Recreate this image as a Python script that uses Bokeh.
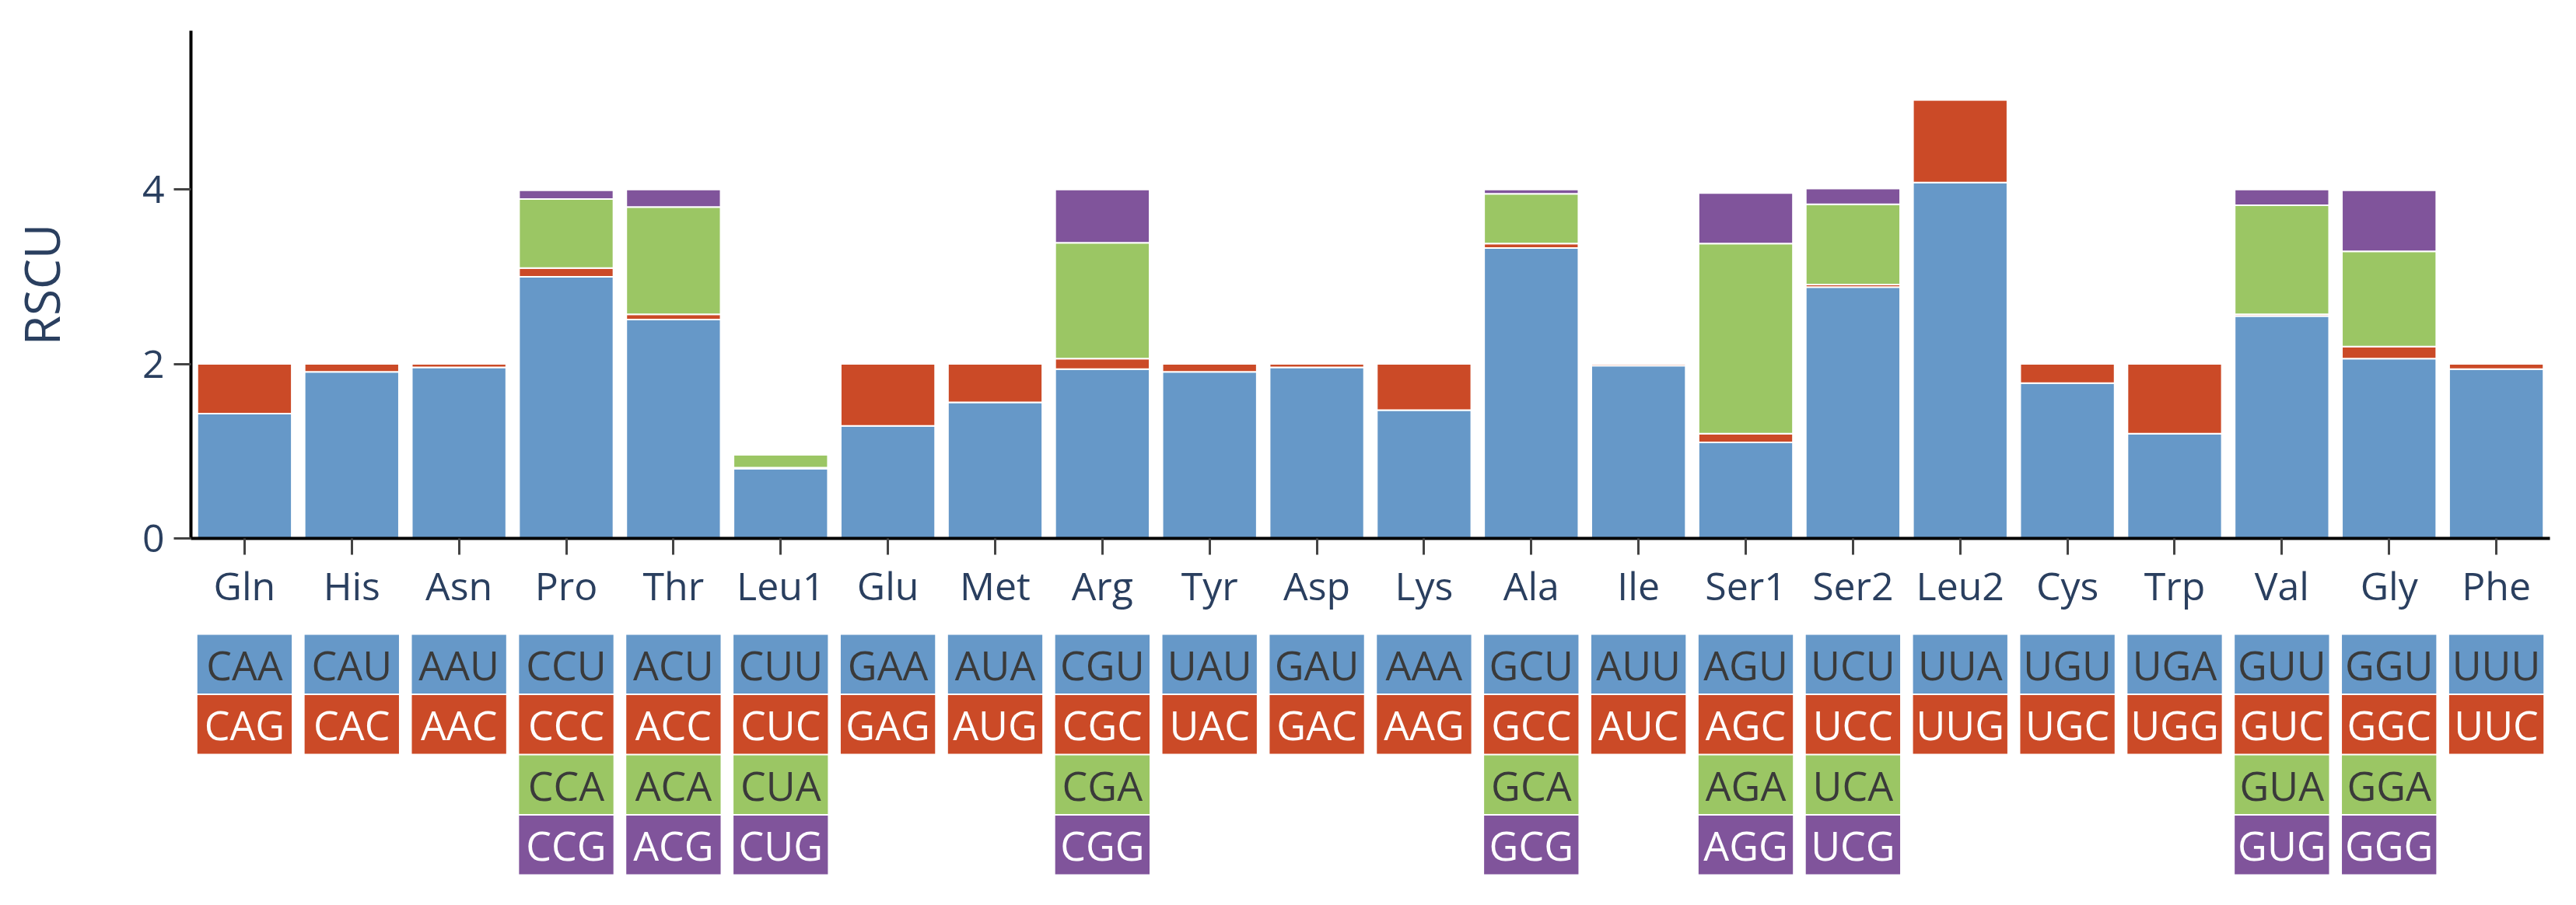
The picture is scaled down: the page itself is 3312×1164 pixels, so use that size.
from bokeh.plotting import figure
from bokeh.models import ColumnDataSource, Range1d, FactorRange, FixedTicker
from bokeh.layouts import column
from bokeh.embed import file_html
from bokeh.resources import INLINE
from bokeh.core.properties import value

# ---------------- data ----------------
amino = ["Gln", "His", "Asn", "Pro", "Thr", "Leu1", "Glu", "Met", "Arg", "Tyr", "Asp",
         "Lys", "Ala", "Ile", "Ser1", "Ser2", "Leu2", "Cys", "Trp", "Val", "Gly", "Phe"]

codon1 = ["CAA", "CAU", "AAU", "CCU", "ACU", "CUU", "GAA", "AUA", "CGU", "UAU", "GAU",
          "AAA", "GCU", "AUU", "AGU", "UCU", "UUA", "UGU", "UGA", "GUU", "GGU", "UUU"]
codon2 = ["CAG", "CAC", "AAC", "CCC", "ACC", "CUC", "GAG", "AUG", "CGC", "UAC", "GAC",
          "AAG", "GCC", "AUC", "AGC", "UCC", "UUG", "UGC", "UGG", "GUC", "GGC", "UUC"]
codon3 = ["", "", "", "CCA", "ACA", "CUA", "", "", "CGA", "", "",
          "", "GCA", "", "AGA", "UCA", "", "", "", "GUA", "GGA", ""]
codon4 = ["", "", "", "CCG", "ACG", "CUG", "", "", "CGG", "", "",
          "", "GCG", "", "AGG", "UCG", "", "", "", "GUG", "GGG", ""]

rscu1 = [1.43, 1.91, 1.96, 3.00, 2.51, 0.80, 1.29, 1.56, 1.94, 1.91, 1.96,
         1.47, 3.33, 1.98, 1.10, 2.88, 4.08, 1.78, 1.20, 2.55, 2.06, 1.94]
rscu2 = [0.57, 0.09, 0.04, 0.10, 0.06, 0.01, 0.71, 0.44, 0.12, 0.09, 0.04,
         0.53, 0.05, 0.02, 0.10, 0.03, 0.95, 0.22, 0.80, 0.02, 0.14, 0.06]
rscu3 = [0.0, 0.0, 0.0, 0.79, 1.23, 0.15, 0.0, 0.0, 1.33, 0.0, 0.0,
         0.0, 0.57, 0.0, 2.18, 0.92, 0.0, 0.0, 0.0, 1.25, 1.09, 0.0]
rscu4 = [0.0, 0.0, 0.0, 0.10, 0.20, 0.01, 0.0, 0.0, 0.61, 0.0, 0.0,
         0.0, 0.05, 0.0, 0.58, 0.18, 0.0, 0.0, 0.0, 0.18, 0.70, 0.0]

yticks = [0, 2, 4]

colors = ["#6698c8", "#cb4a27", "#9bc664", "#80549b"]
text_colors = ["#3a3a3a", "#ffffff", "#3a3a3a", "#ffffff"]

FONT = "Open Sans"
AXIS_COLOR = "#2a3f5f"
W = 3304
BAR_W = 0.88

# ---------------- bar chart ----------------
src = ColumnDataSource(dict(aa=amino, r1=rscu1, r2=rscu2, r3=rscu3, r4=rscu4))

p = figure(x_range=FactorRange(*amino), y_range=Range1d(0, 5.82),
           width=W, height=815, output_backend="svg", toolbar_location=None,
           min_border_left=245, min_border_right=26, min_border_top=39, min_border_bottom=123)
p.vbar_stack(["r1", "r2", "r3", "r4"], x="aa", width=BAR_W, color=colors, source=src,
             line_color="white", line_width=2)

p.xgrid.visible = False
p.ygrid.visible = False
p.outline_line_color = None
p.x_range.range_padding = 0

for ax in (p.xaxis[0], p.yaxis[0]):
    ax.axis_line_color = "black"
    ax.axis_line_width = 4
    ax.major_tick_line_color = "#444444"
    ax.major_tick_line_width = 3
    ax.major_tick_in = 0
    ax.minor_tick_line_color = None
    ax.major_label_text_font = FONT
    ax.major_label_text_color = AXIS_COLOR
    ax.major_label_text_font_size = "50px"

p.xaxis.major_tick_out = 21
p.xaxis.major_label_standoff = 5
p.yaxis.major_tick_out = 22
p.yaxis.major_label_standoff = 12
p.yaxis.ticker = FixedTicker(ticks=yticks)
p.yaxis.axis_label = "RSCU"
p.yaxis.axis_label_text_font = FONT
p.yaxis.axis_label_text_font_size = "62px"
p.yaxis.axis_label_text_font_style = "normal"
p.yaxis.axis_label_text_color = AXIS_COLOR
p.yaxis.axis_label_standoff = 85

# ---------------- codon table ----------------
rows = [codon1, codon2, codon3, codon4]
bx, by, bc, bt, tc = [], [], [], [], []
for r, row in enumerate(rows):
    for aa, cod in zip(amino, row):
        if cod:
            bx.append(aa)
            by.append(r + 0.5)
            bc.append(colors[r])
            bt.append(cod)
            tc.append(text_colors[r])
tsrc = ColumnDataSource(dict(x=bx, y=by, c=bc, t=bt, tc=tc))

p2 = figure(x_range=p.x_range, y_range=Range1d(4, 0),
            width=W, height=320, output_backend="svg", toolbar_location=None,
            x_axis_location=None, y_axis_location=None,
            min_border_left=245, min_border_right=26, min_border_top=0, min_border_bottom=10)
p2.rect(x="x", y="y", width=BAR_W, height=0.975, fill_color="c", line_color=None, source=tsrc)
p2.text(x="x", y="y", text="t", text_color="tc", text_align="center", text_baseline="middle",
        text_font=value(FONT), text_font_size="52px", source=tsrc)
p2.xgrid.visible = False
p2.ygrid.visible = False
p2.outline_line_color = None

layout = column(p, p2, spacing=0)
open("out.html", "w").write(file_html(layout, INLINE))
